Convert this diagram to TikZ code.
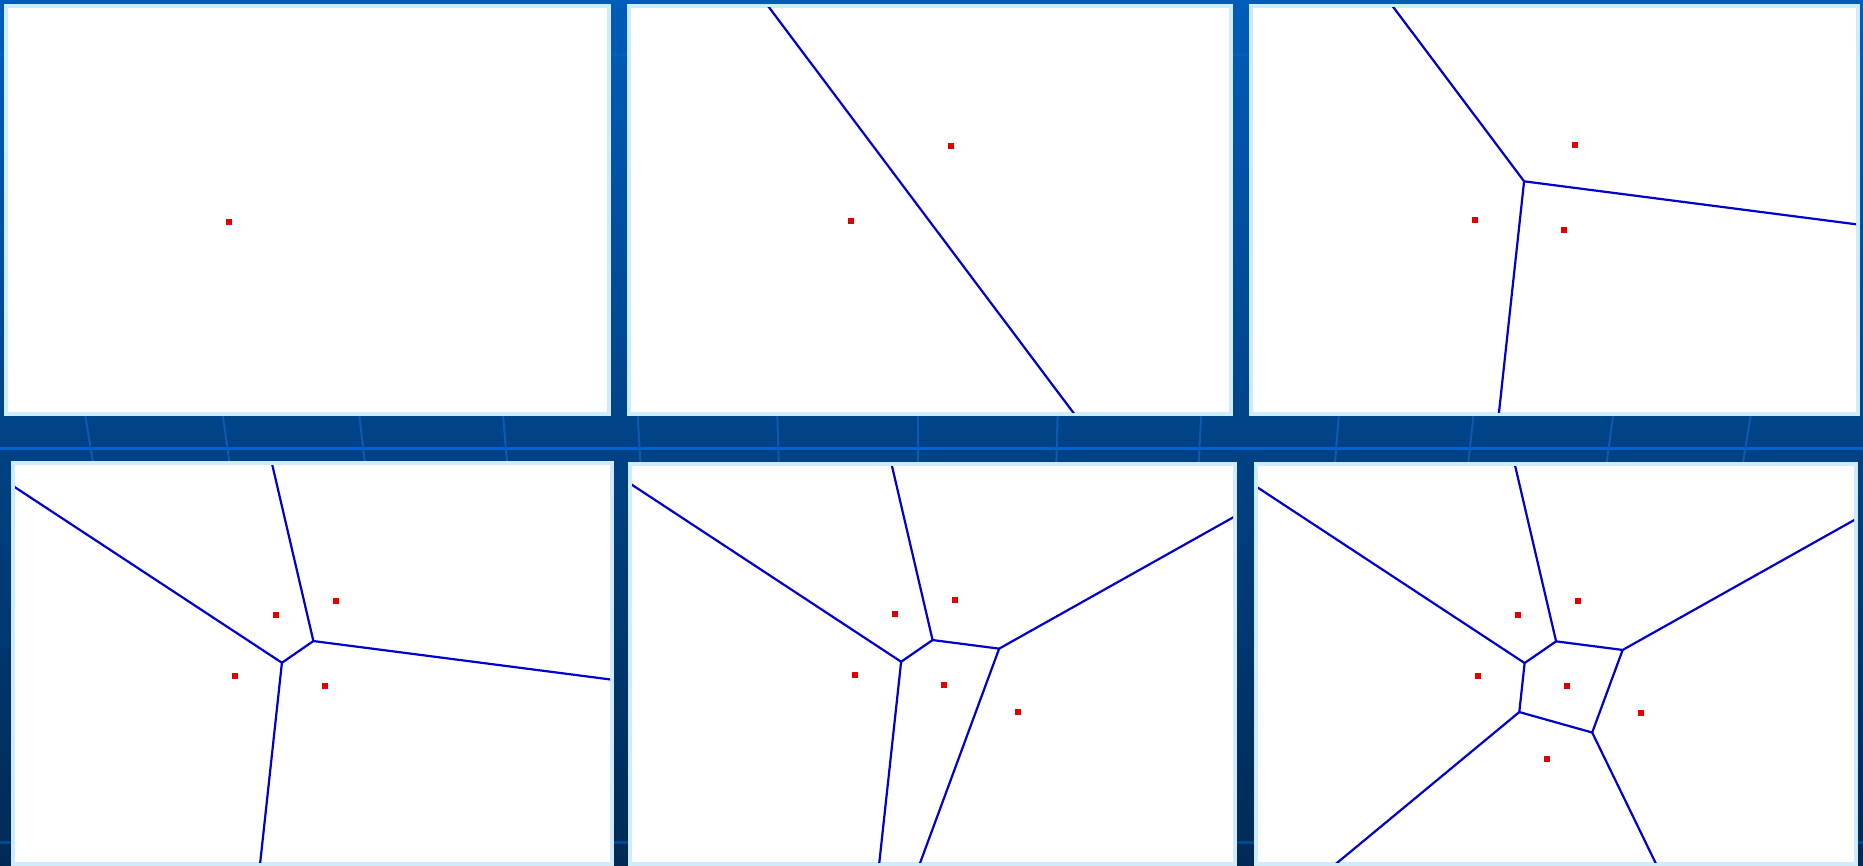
\documentclass[tikz,border=0pt]{standalone}
\definecolor{bgtop}{RGB}{0,92,186}
\definecolor{bgbot}{RGB}{0,42,84}
\definecolor{gridline}{RGB}{0,99,206}
\definecolor{gridfaint}{RGB}{14,90,176}
\definecolor{panelrim}{RGB}{206,236,252}
\definecolor{edgeblue}{RGB}{0,0,200}
\definecolor{sitered}{RGB}{226,0,0}
\tikzset{
  vedge/.style={edgeblue, line width=2.2pt, line cap=round, line join=round},
  site/.style={rectangle, fill=sitered, inner sep=0pt, minimum size=6pt},
  hgrid/.style={gridline, line width=3pt},
  vgrid/.style={gridfaint, line width=2pt},
}
\newcommand\drawpanel[4]{%
  \fill[panelrim] (#1,#2) rectangle (#3,#4);
  \fill[white] ({#1+4},{#2+4}) rectangle ({#3-4},{#4-4});}
\begin{document}
\begin{tikzpicture}[x=1pt,y=-1pt]
\useasboundingbox (0,0) rectangle (1863,866);
% background
\shade[top color=bgtop,bottom color=bgbot] (0,0) rectangle (1863,866);
\draw[hgrid] (0,448) -- (1863,448);
\draw[hgrid, opacity=0.6] (0,55) -- (1863,55);
\draw[hgrid, opacity=0.5] (0,842) -- (1863,842);
\foreach \x in {89,226,362,505,639,778,918,1057,1200,1337,1471,1610,1747}
  \draw[vgrid] ({\x-(930-\x)*0.008},398) -- ({\x+(930-\x)*0.006},468);
% panels
\drawpanel{4}{4}{611}{416}
\drawpanel{627}{4}{1233}{416}
\drawpanel{1249}{4}{1860}{416}
\drawpanel{11}{461}{614}{866}
\drawpanel{628}{462}{1237}{866}
\drawpanel{1254}{462}{1858}{866}

% ---------- panel 1 ----------
\begin{scope}[shift={(229,222)}]
  \node[site] (s1a) at (0,0) {};
\end{scope}

% ---------- panel 2 ----------
\begin{scope}
  \clip (631,8) rectangle (1229,412);
  \begin{scope}[shift={(851,221)}]
    \coordinate (b2u) at (-552.25,-840.05);
    \coordinate (b2d) at (652.55,764.75);
    \draw[vedge] (b2u) -- (b2d);
    \node[site] (s2a) at (0,0) {};
    \node[site] (s2b) at (100.3,-75.3) {};
  \end{scope}
\end{scope}

% ---------- panel 3 ----------
\begin{scope}
  \clip (1253,8) rectangle (1856,412);
  \begin{scope}[shift={(1474.7,220)}]
    \coordinate (v3) at (49.38,-38.68);
    \coordinate (u3) at (-553.02,-841.08);
    \coordinate (r3) at (729.38,49.32);
    \coordinate (d3) at (-28.22,675.72);
    \draw[vedge] (u3) -- (v3) -- (r3);
    \draw[vedge] (v3) -- (d3);
    \node[site] (s3a) at (0,0) {};
    \node[site] (s3b) at (100.3,-75.3) {};
    \node[site] (s3c) at (89.3,9.7) {};
  \end{scope}
\end{scope}

% ---------- panel 4 ----------
\begin{scope}
  \clip (15,465) rectangle (610,862);
  \begin{scope}[shift={(235.3,676)}]
    \coordinate (va4) at (46.62,-13.25);
    \coordinate (vb4) at (78.08,-34.96);
    \coordinate (ua4) at (-443.78,-335.65);
    \coordinate (ub4) at (-33.92,-514.96);
    \coordinate (rb4) at (758.08,53.04);
    \coordinate (da4) at (-30.98,701.15);
    \draw[vedge] (ua4) -- (va4) -- (vb4) -- (rb4);
    \draw[vedge] (ub4) -- (vb4);
    \draw[vedge] (va4) -- (da4);
    \node[site] (s4a) at (0,0) {};
    \node[site] (s4b) at (100.3,-75.3) {};
    \node[site] (s4c) at (89.3,9.7) {};
    \node[site] (s4d) at (40.3,-61.3) {};
  \end{scope}
\end{scope}

% ---------- panel 5 ----------
\begin{scope}
  \clip (632,466) rectangle (1233,862);
  \begin{scope}[shift={(854.5,675)}]
    \coordinate (va5) at (46.62,-13.25);
    \coordinate (vb5) at (78.08,-34.96);
    \coordinate (vc5) at (144.64,-26.35);
    \coordinate (ua5) at (-443.78,-335.65);
    \coordinate (ub5) at (-33.92,-514.96);
    \coordinate (da5) at (-30.98,701.15);
    \coordinate (rc5) at (1043.04,-530.35);
    \coordinate (dc5) at (-73.76,565.65);
    \draw[vedge] (ua5) -- (va5) -- (vb5) -- (vc5) -- (rc5);
    \draw[vedge] (ub5) -- (vb5);
    \draw[vedge] (va5) -- (da5);
    \draw[vedge] (vc5) -- (dc5);
    \node[site] (s5a) at (0,0) {};
    \node[site] (s5b) at (100.3,-75.3) {};
    \node[site] (s5c) at (89.3,9.7) {};
    \node[site] (s5d) at (40.3,-61.3) {};
    \node[site] (s5e) at (163.3,37) {};
  \end{scope}
\end{scope}

% ---------- panel 6 ----------
\begin{scope}
  \clip (1258,466) rectangle (1854,862);
  \begin{scope}[shift={(1478,676.3)}]
    \coordinate (va6) at (46.62,-13.25);
    \coordinate (vb6) at (78.08,-34.96);
    \coordinate (vc6) at (144.64,-26.35);
    \coordinate (vd6) at (41.29,35.75);
    \coordinate (ve6) at (114.17,56.23);
    \coordinate (ua6) at (-443.78,-335.65);
    \coordinate (ub6) at (-33.92,-514.96);
    \coordinate (rc6) at (1043.04,-530.35);
    \coordinate (dd6) at (-622.71,585.35);
    \coordinate (de6) at (482.17,813.03);
    \draw[vedge] (ua6) -- (va6) -- (vb6) -- (vc6) -- (rc6);
    \draw[vedge] (ub6) -- (vb6);
    \draw[vedge] (va6) -- (vd6) -- (ve6) -- (vc6);
    \draw[vedge] (vd6) -- (dd6);
    \draw[vedge] (ve6) -- (de6);
    \node[site] (s6a) at (0,0) {};
    \node[site] (s6b) at (100.3,-75.3) {};
    \node[site] (s6c) at (89.3,9.7) {};
    \node[site] (s6d) at (40.3,-61.3) {};
    \node[site] (s6e) at (163.3,37) {};
    \node[site] (s6f) at (68.7,83) {};
  \end{scope}
\end{scope}
\end{tikzpicture}
\end{document}
